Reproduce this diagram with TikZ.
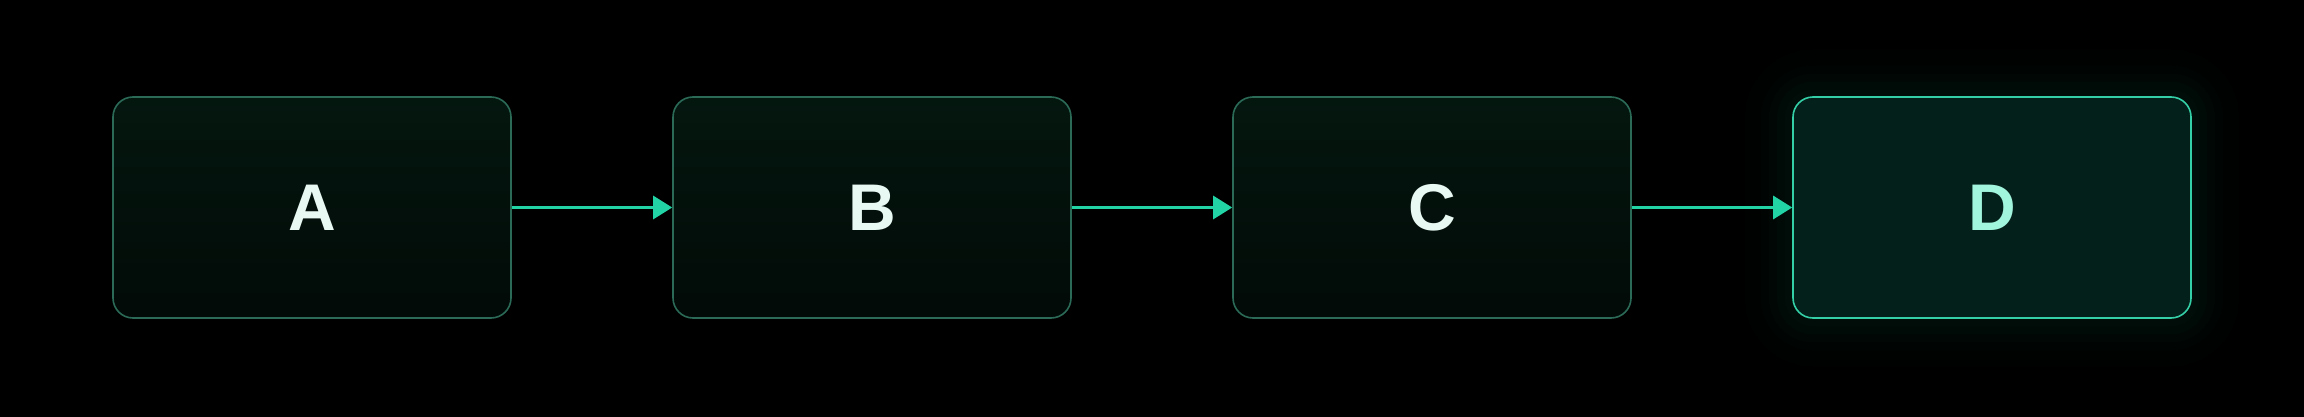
\documentclass[tikz,border=0pt]{standalone}
\usepackage{fontspec}
\setmainfont{Liberation Sans}
\usetikzlibrary{arrows.meta}
\definecolor{bgc}{HTML}{000000}
\definecolor{edgedim}{HTML}{2B6A57}
\definecolor{edgelit}{HTML}{34CFA6}
\definecolor{filltop}{HTML}{04170F}
\definecolor{fillbot}{HTML}{020A07}
\definecolor{filllit}{HTML}{04201A}
\definecolor{arrowc}{HTML}{22D3A5}
\definecolor{txt}{HTML}{E8F8F2}
\definecolor{txtlit}{HTML}{A2F5DD}
\definecolor{glowc}{HTML}{10A07A}
\tikzset{
  stepbox/.style={rectangle, rounded corners=20pt, minimum width=398pt, minimum height=221pt,
    draw=edgedim, line width=1.6pt, top color=filltop, bottom color=fillbot,
    text=txt, font=\bfseries\fontsize{66}{70}\selectfont, inner sep=0pt},
  litbox/.style={stepbox, draw=edgelit, top color=filllit, bottom color=filllit, text=txtlit},
  flow/.style={draw=arrowc, line width=3pt, -{Triangle[length=19pt,width=23pt]}, shorten >=0pt}
}
\begin{document}
\begin{tikzpicture}[x=1pt,y=1pt]
\useasboundingbox (0,0) rectangle (2304,416);
\fill[bgc] (-10,-10) rectangle (2314,426);
% glow behind D
\foreach \r/\o in {48/0.01,40/0.012,32/0.015,24/0.018,16/0.02,8/0.022}{
  \fill[glowc, opacity=\o, rounded corners=20pt+\r pt] (1793-\r,97.5-\r) rectangle (2191+\r,318.5+\r);
}
\node[stepbox] (a) at (312,208.5) {A};
\node[stepbox] (b) at (872,208.5) {B};
\node[stepbox] (c) at (1432,208.5) {C};
\node[litbox]  (d) at (1992,208.5) {D};
\draw[flow] (a.east) -- (b.west);
\draw[flow] (b.east) -- (c.west);
\draw[flow] (c.east) -- (d.west);
\end{tikzpicture}
\end{document}
